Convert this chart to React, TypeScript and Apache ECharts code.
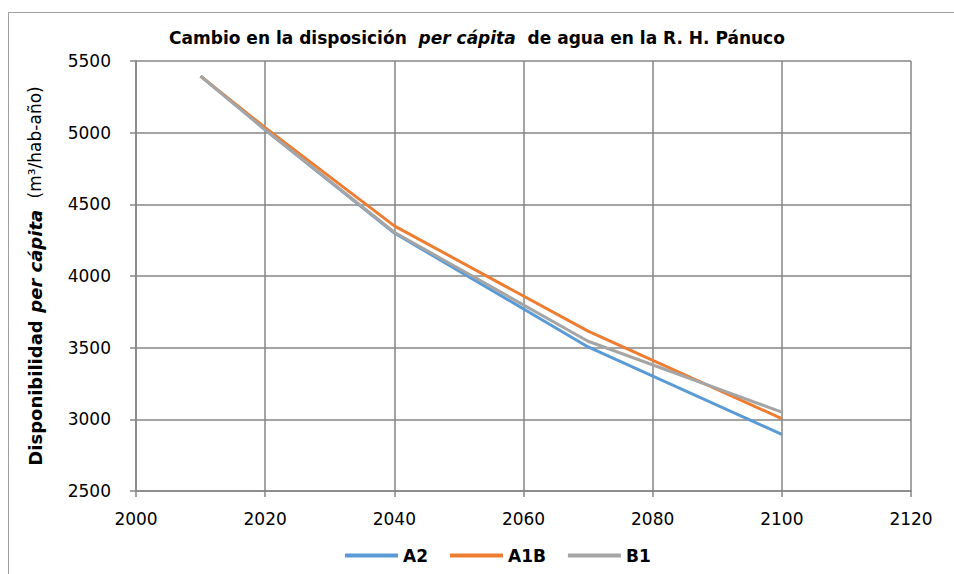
import React, { useEffect, useRef } from "react";
import * as echarts from "echarts";

const years = [2010, 2020, 2040, 2070, 2100];
const seriesNames = ["A2", "A1B", "B1"];
const a2Values = [5395, 5020, 4300, 3505, 2895];
const a1bValues = [5395, 5035, 4350, 3615, 3005];
const b1Values = [5395, 5020, 4305, 3545, 3050];
const colors = ["#5B9BD5", "#ED7D31", "#A5A5A5"];

const FONT = "'DejaVu Sans', sans-serif";

export default function App() {
  const ref = useRef<HTMLDivElement>(null);
  useEffect(() => {
    if (!ref.current) return;
    const chart = echarts.init(ref.current, undefined, { renderer: "svg" });
    const allValues = [a2Values, a1bValues, b1Values];
    chart.setOption({
      animation: false,
      backgroundColor: "#fff",
      textStyle: { fontFamily: FONT },
      title: {
        left: "center",
        top: 24,
        text: "Cambio en la disposición  {i|per cápita}  de agua en la R. H. Pánuco",
        textStyle: {
          fontFamily: FONT,
          fontSize: 17,
          fontWeight: "bold",
          color: "#000",
          rich: {
            i: { fontFamily: FONT, fontSize: 17, fontWeight: "bold", fontStyle: "italic", color: "#000" },
          },
        },
      },
      graphic: [
        {
          type: "rect",
          shape: { x: 8.5, y: 12.5, width: 960, height: 580 },
          style: { fill: "none", stroke: "#A0A0A0", lineWidth: 1 },
          silent: true,
        },
      ],
      grid: { left: 136, right: 43, top: 61, bottom: 83, containLabel: false },
      legend: {
        top: 542,
        left: 340,
        icon: "rect",
        itemWidth: 53,
        itemHeight: 4,
        itemGap: 22,
        textStyle: { fontFamily: FONT, fontSize: 17, fontWeight: "bold", color: "#000" },
        data: seriesNames,
      },
      xAxis: {
        type: "value",
        min: 2000,
        max: 2120,
        interval: 20,
        axisLine: { lineStyle: { color: "#868686", width: 1.5 } },
        axisTick: { show: true, length: 6, lineStyle: { color: "#868686", width: 1.5 } },
        splitLine: { show: true, lineStyle: { color: "#868686", width: 1.5 } },
        axisLabel: { color: "#000", fontSize: 17, fontFamily: FONT, margin: 19, formatter: (v: number) => String(v) },
      },
      yAxis: {
        type: "value",
        min: 2500,
        max: 5500,
        interval: 500,
        name: "{b|Disponibilidad}  {bi|per cápita}   {n|(m³/hab-año)}",
        nameLocation: "middle",
        nameGap: 92,
        nameRotate: 90,
        nameTextStyle: {
          rich: {
            b: { fontFamily: FONT, fontSize: 18, fontWeight: "bold", color: "#000" },
            bi: { fontFamily: FONT, fontSize: 18, fontWeight: "bold", fontStyle: "italic", color: "#000" },
            n: { fontFamily: FONT, fontSize: 17, color: "#000" },
          },
        },
        axisLine: { show: true, lineStyle: { color: "#868686", width: 1.5 } },
        axisTick: { show: true, length: 6, lineStyle: { color: "#868686", width: 1.5 } },
        splitLine: { show: true, lineStyle: { color: "#868686", width: 1.5 } },
        axisLabel: { color: "#000", fontSize: 17, fontFamily: FONT, margin: 25, formatter: (v: number) => String(v) },
      },
      series: seriesNames.map((name, i) => ({
        name,
        type: "line",
        data: years.map((y, j) => [y, allValues[i][j]]),
        symbol: "none",
        lineStyle: { color: colors[i], width: 3 },
        itemStyle: { color: colors[i] },
      })),
    });
    return () => chart.dispose();
  }, []);
  return (
    <div
      ref={ref}
      style={{ position: "absolute", left: 0, top: 0, width: 954, height: 574 }}
    />
  );
}
